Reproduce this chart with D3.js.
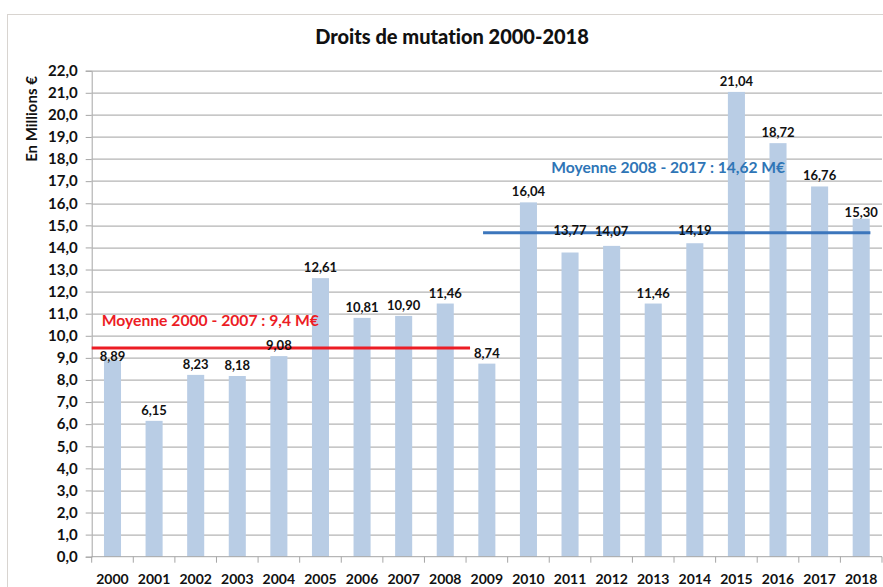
<!DOCTYPE html>
<html>
<head>
<meta charset="utf-8">
<script src="https://cdn.jsdelivr.net/npm/d3@7"></script>
<style>
  html, body { margin: 0; padding: 0; background: #fff; }
  svg { display: block; font-family: Lato, "Open Sans", sans-serif; font-weight: bold; font-variant-ligatures: none; }
</style>
</head>
<body>
<svg id="chart" width="883" height="587"></svg>
<script>
var years = ["2000", "2001", "2002", "2003", "2004", "2005", "2006", "2007", "2008", "2009",
  "2010", "2011", "2012", "2013", "2014", "2015", "2016", "2017", "2018"];
var amounts = [8.89, 6.15, 8.23, 8.18, 9.08, 12.61, 10.81, 10.90, 11.46, 8.74,
  16.04, 13.77, 14.07, 11.46, 14.19, 21.04, 18.72, 16.76, 15.30];
var yTicks = d3.range(0, 23, 1);

var avgLabels = ["Moyenne 2000 - 2007 : 9,4 M€", "Moyenne 2008 - 2017 : 14,62 M€"];
var avgValues = [9.4, 14.62];
var avgFrom = ["2000", "2009"];
var avgTo = ["2009", "2018"];
var avgColors = ["#ec1c24", "#3c76bc"];

// data labels that excel had moved by hand
var labelNudge = { "2000": 7, "2011": -11, "2012": -4, "2014": -2, "2018": 4 };

var fmt = function (v) { return d3.format(".2f")(v).replace(".", ","); };
var fmtTick = function (v) { return d3.format(".1f")(v).replace(".", ","); };

var margin = { top: 70.7, right: 1, bottom: 30.3, left: 91.7 };
var width = 883 - margin.left - margin.right;
var height = 587 - margin.top - margin.bottom;

var svg = d3.select("#chart");

// outer frame of the excel chart
svg.append("rect")
  .attr("x", 7.5).attr("y", 14.5)
  .attr("width", 900).attr("height", 600)
  .attr("fill", "none")
  .attr("stroke", "#d8d4d0");

svg.append("text")
  .attr("x", 452).attr("y", 44)
  .attr("text-anchor", "middle")
  .style("font-size", "20px")
  .style("font-weight", 900)
  .attr("fill", "#111")
  .text("Droits de mutation 2000-2018");

svg.append("text")
  .attr("transform", "translate(37,119) rotate(-90)")
  .attr("text-anchor", "middle")
  .style("font-size", "15px")
  .attr("fill", "#111")
  .text("En Millions €");

var g = svg.append("g")
  .attr("transform", "translate(" + margin.left + "," + margin.top + ")");

var x = d3.scaleBand().domain(years).range([0, width]).padding(0);
var y = d3.scaleLinear().domain([0, 22]).range([height, 0]);

// gridlines + y axis
var yAxis = g.append("g")
  .call(d3.axisLeft(y).tickValues(yTicks).tickFormat(fmtTick).tickSize(6).tickPadding(8));
yAxis.select(".domain").attr("stroke", "#a6a6a6");
yAxis.selectAll(".tick line").attr("stroke", "#a6a6a6");
yAxis.selectAll(".tick text")
  .style("font-size", "15px").style("font-family", "Lato, sans-serif")
  .attr("fill", "#111");

g.append("g").selectAll("line")
  .data(yTicks.filter(function (d) { return d > 0; }))
  .enter().append("line")
  .attr("x1", 0).attr("x2", width)
  .attr("y1", function (d) { return Math.round(y(d)) + 0.5; })
  .attr("y2", function (d) { return Math.round(y(d)) + 0.5; })
  .attr("stroke", "#b4b4b4")
  .attr("stroke-width", 1.3);

// bars
var barW = x.bandwidth() * 0.41;
g.selectAll(".bar")
  .data(amounts)
  .enter().append("rect")
  .attr("class", "bar")
  .attr("x", function (d, i) { return x(years[i]) + (x.bandwidth() - barW) / 2; })
  .attr("y", function (d) { return y(d); })
  .attr("width", barW)
  .attr("height", function (d) { return height - y(d); })
  .attr("fill", "#b9cde5");

// x axis with ticks between categories
var xAxis = g.append("g").attr("transform", "translate(0," + height + ")");
xAxis.append("line")
  .attr("x1", 0).attr("x2", width)
  .attr("stroke", "#a6a6a6");
xAxis.selectAll(".xt")
  .data(years.concat(["end"]))
  .enter().append("line")
  .attr("x1", function (d, i) { return i * x.step(); })
  .attr("x2", function (d, i) { return i * x.step(); })
  .attr("y1", 0).attr("y2", 6)
  .attr("stroke", "#a6a6a6");
xAxis.selectAll(".xl")
  .data(years)
  .enter().append("text")
  .attr("x", function (d) { return x(d) + x.bandwidth() / 2; })
  .attr("y", 27)
  .attr("text-anchor", "middle")
  .style("font-size", "14px")
  .attr("fill", "#111")
  .text(function (d) { return d; });

// average lines
avgValues.forEach(function (v, i) {
  var x1 = i === 0 ? x(avgFrom[i]) : x(avgFrom[i]) + 17;
  var x2 = i === 0 ? x(avgTo[i]) + 4 : x(avgTo[i]) + 30;
  g.append("line")
    .attr("x1", x1).attr("x2", x2)
    .attr("y1", y(v) - 1).attr("y2", y(v) - 1)
    .attr("stroke", avgColors[i])
    .attr("stroke-width", 3);
});

// value labels
g.selectAll(".val")
  .data(amounts)
  .enter().append("text")
  .attr("class", "val")
  .attr("x", function (d, i) { return x(years[i]) + x.bandwidth() / 2; })
  .attr("y", function (d, i) { return y(d) - 6 + (labelNudge[years[i]] || 0); })
  .attr("text-anchor", "middle")
  .style("font-size", "13px")
  .attr("fill", "#111")
  .text(fmt);

// average captions
g.append("text")
  .attr("x", 10).attr("y", y(avgValues[0]) - 23)
  .style("font-size", "15.7px")
  .attr("fill", avgColors[0])
  .text(avgLabels[0]);
g.append("text")
  .attr("x", x("2011") + 2).attr("y", y(avgValues[1]) - 61)
  .style("font-size", "15.6px")
  .attr("fill", "#2e75b6")
  .text(avgLabels[1]);
</script>
</body>
</html>
